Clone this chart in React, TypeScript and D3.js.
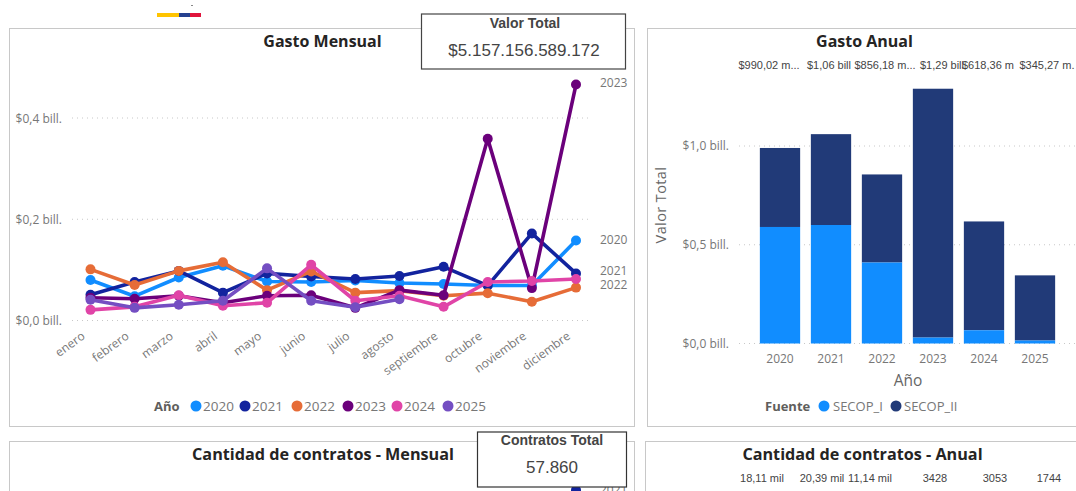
import React from "react";
import * as d3 from "d3";

const meses = ["enero","febrero","marzo","abril","mayo","junio","julio","agosto","septiembre","octubre","noviembre","diciembre"];
const gasto2020 = [.080,.048,.085,.108,.077,.076,.079,.074,.072,.069,.069,.158];
const gasto2021 = [.051,.076,.098,.055,.093,.087,.082,.088,.106,.069,.172,.093];
const gasto2022 = [.101,.070,.098,.115,.060,.097,.055,.059,.049,.054,.037,.065];
const gasto2023 = [.045,.043,.049,.035,.049,.050,.025,.060,.050,.359,.064,.466];
const gasto2024 = [.021,.027,.050,.029,.035,.110,.039,.049,.027,.076,.078,.082];
const gasto2025 = [.041,.025,.031,.039,.103,.039,.026,.042];
const anios = ["2020","2021","2022","2023","2024","2025"];
const coloresAnio = ["#118DFF","#12239E","#E66C37","#6B007B","#E044A7","#744EC2"];
const etiquetasFin = ["2023","2020","2021","2022"];
const posFinLabels = [.470,.160,.097,.070];
const ticksMensual = [0,.2,.4];
const ticksAnual = [0,.5,1];
const secopI = [.59,.60,.41,.03,.067,.015];
const secopII = [.40,.46,.446,1.26,.551,.33];
const etiquetasAnual = ["$990,02 m...","$1,06 bill","$856,18 m...","$1,29 bill","$618,36 m","$345,27 m."];
const etiquetasContratos = ["18,11 mil","20,39 mil","11,14 mil","3428","3053","1744"];
const offsetAnual = [-11,-2,3,9,4,12];
const offsetContratos = [-18,-9,-12,2,11,14];

const sans = "'Open Sans','Noto Sans',sans-serif";
const arial = "'Liberation Sans',Arial,sans-serif";
const gris = "#777777";

export default function App() {
  const x = d3.scalePoint<string>().domain(meses).range([90.5, 576]);
  const y = d3.scaleLinear().domain([0, .4]).range([320.5, 118]);
  const line = d3.line<number>().x((_, i) => x(meses[i])!).y(d => y(d));
  const series = [gasto2020, gasto2021, gasto2022, gasto2023, gasto2024, gasto2025];
  const xB = d3.scaleBand<string>().domain(anios).range([754.5, 1060.5]).paddingInner(.21).paddingOuter(.105);
  const yB = d3.scaleLinear().domain([0, 1]).range([343.5, 146]);
  const legendX = [196, 245, 297, 348, 397, 448];
  const yContr = d3.scaleLinear().domain([0, 1]).range([600, 490]);
  return (
    <svg width={1076} height={491} style={{ position: "absolute", left: 0, top: 0, display: "block", background: "#fff" }}>
      {/* logo */}
      <rect x={157} y={13} width={22} height={4} fill="#FFC400" />
      <rect x={179} y={13} width={11} height={4} fill="#26418F" />
      <rect x={190} y={13} width={11} height={4} fill="#E0143C" />
      <rect x={191} y={5} width={2} height={1} fill="#888" />

      {/* marcos */}
      <rect x={9.5} y={28.5} width={625} height={398} fill="#fff" stroke="#c8c8c8" />
      <rect x={647.5} y={28.5} width={440} height={398} fill="#fff" stroke="#c8c8c8" />
      <rect x={9.5} y={441.5} width={625} height={80} fill="#fff" stroke="#c8c8c8" />
      <rect x={645.5} y={441.5} width={440} height={80} fill="#fff" stroke="#c8c8c8" />

      {/* Gasto Mensual */}
      <text x={322.5} y={46.5} textAnchor="middle" fontFamily={sans} fontWeight={700} fontSize={16} fill="#252423">Gasto Mensual</text>
      {ticksMensual.map(t => (
        <g key={t}>
          <line x1={72} x2={592} y1={y(t)} y2={y(t)} stroke="#c8c8c8" strokeDasharray="1 4" />
          <text x={62} y={y(t) + 4.5} textAnchor="end" fontFamily={sans} fontSize={12} fill={gris}>{"$" + t.toFixed(1).replace(".", ",") + " bill."}</text>
        </g>
      ))}
      {meses.map(m => (
        <text key={m} transform={`translate(${x(m)! - 9},${332}) rotate(-36)`} textAnchor="end" fontFamily={sans} fontSize={12} fill={gris} dy="0.6em">{m}</text>
      ))}
      {series.map((s, k) => (
        <g key={k}>
          <path d={line(s)!} fill="none" stroke={coloresAnio[k]} strokeWidth={3.6} strokeLinejoin="round" />
          {s.map((v, i) => <circle key={i} cx={x(meses[i])} cy={y(v)} r={5} fill={coloresAnio[k]} />)}
        </g>
      ))}
      {etiquetasFin.map((t, i) => (
        <text key={t} x={600} y={y(posFinLabels[i]) + 4} fontFamily={sans} fontSize={12} fill={gris}>{t}</text>
      ))}
      <text x={154} y={411} fontFamily={sans} fontWeight={700} fontSize={13} fill="#605E5C">Año</text>
      {anios.map((a, i) => (
        <g key={a}>
          <circle cx={legendX[i]} cy={406} r={5.5} fill={coloresAnio[i]} />
          <text x={legendX[i] + 7} y={411} fontFamily={sans} fontSize={13.5} fill={gris}>{a}</text>
        </g>
      ))}

      {/* Valor Total */}
      <rect x={421.5} y={14} width={204} height={55} fill="#fff" stroke="#444" strokeWidth={1.2} />
      <text x={525} y={27.5} textAnchor="middle" fontFamily={arial} fontWeight={700} fontSize={14} fill="#444">Valor Total</text>
      <text x={524} y={56} textAnchor="middle" fontFamily={arial} fontSize={17} fill="#444">$5.157.156.589.172</text>

      {/* Gasto Anual */}
      <text x={864.5} y={46.5} textAnchor="middle" fontFamily={sans} fontWeight={700} fontSize={16} fill="#252423">Gasto Anual</text>
      {ticksAnual.map(t => (
        <g key={t}>
          <line x1={739} x2={1076} y1={yB(t)} y2={yB(t)} stroke="#c8c8c8" strokeDasharray="1 4" />
          <text x={729} y={yB(t) + 4} textAnchor="end" fontFamily={sans} fontSize={12} fill={gris}>{"$" + t.toFixed(1).replace(".", ",") + " bill."}</text>
        </g>
      ))}
      {anios.map((a, i) => (
        <g key={a}>
          <rect x={xB(a)} y={yB(secopI[i] + secopII[i])} width={xB.bandwidth()} height={yB(secopI[i]) - yB(secopI[i] + secopII[i])} fill="#213A78" />
          <rect x={xB(a)} y={yB(secopI[i])} width={xB.bandwidth()} height={yB(0) - yB(secopI[i])} fill="#118DFF" />
          <text x={xB(a)! + xB.bandwidth() / 2} y={363} textAnchor="middle" fontFamily={sans} fontSize={12} fill={gris}>{a}</text>
          <text x={xB(a)! + xB.bandwidth() / 2 + offsetAnual[i]} y={69} textAnchor="middle" fontFamily={arial} fontSize={11} fill="#444">{etiquetasAnual[i]}</text>
          <text x={xB(a)! + xB.bandwidth() / 2 + offsetContratos[i]} y={482} textAnchor="middle" fontFamily={arial} fontSize={11} fill="#444">{etiquetasContratos[i]}</text>
        </g>
      ))}
      <text x={908} y={385.5} textAnchor="middle" fontFamily={sans} fontSize={15.5} fill="#666">Año</text>
      <text transform="translate(665.5,205) rotate(-90)" textAnchor="middle" fontFamily={sans} fontSize={14.5} fill="#666" letterSpacing={0.4}>Valor Total</text>
      <text x={765} y={411} fontFamily={sans} fontWeight={700} fontSize={13} fill="#605E5C">Fuente</text>
      <circle cx={824} cy={406} r={5.5} fill="#118DFF" />
      <text x={833} y={411} fontFamily={sans} fontSize={13} fill={gris}>SECOP_I</text>
      <circle cx={896} cy={406} r={5.5} fill="#213A78" />
      <text x={904} y={411} fontFamily={sans} fontSize={13} fill={gris}>SECOP_II</text>

      {/* Cantidad de contratos */}
      <text x={323} y={459.5} textAnchor="middle" fontFamily={sans} fontWeight={700} fontSize={16.2} fill="#252423">Cantidad de contratos - Mensual</text>
      <text x={862.5} y={459.5} textAnchor="middle" fontFamily={sans} fontWeight={700} fontSize={16.2} fill="#252423">Cantidad de contratos - Anual</text>
      <circle cx={x("diciembre")} cy={yContr(1)} r={5} fill="#12239E" />
      <text x={600} y={yContr(1) + 4} fontFamily={sans} fontSize={12} fill={gris}>2021</text>
      <rect x={477.5} y={432} width={149} height={55} fill="#fff" stroke="#333" strokeWidth={1.2} />
      <text x={552} y={445} textAnchor="middle" fontFamily={arial} fontWeight={700} fontSize={14} fill="#444">Contratos Total</text>
      <text x={552} y={473} textAnchor="middle" fontFamily={arial} fontSize={17} fill="#444">57.860</text>
    </svg>
  );
}
